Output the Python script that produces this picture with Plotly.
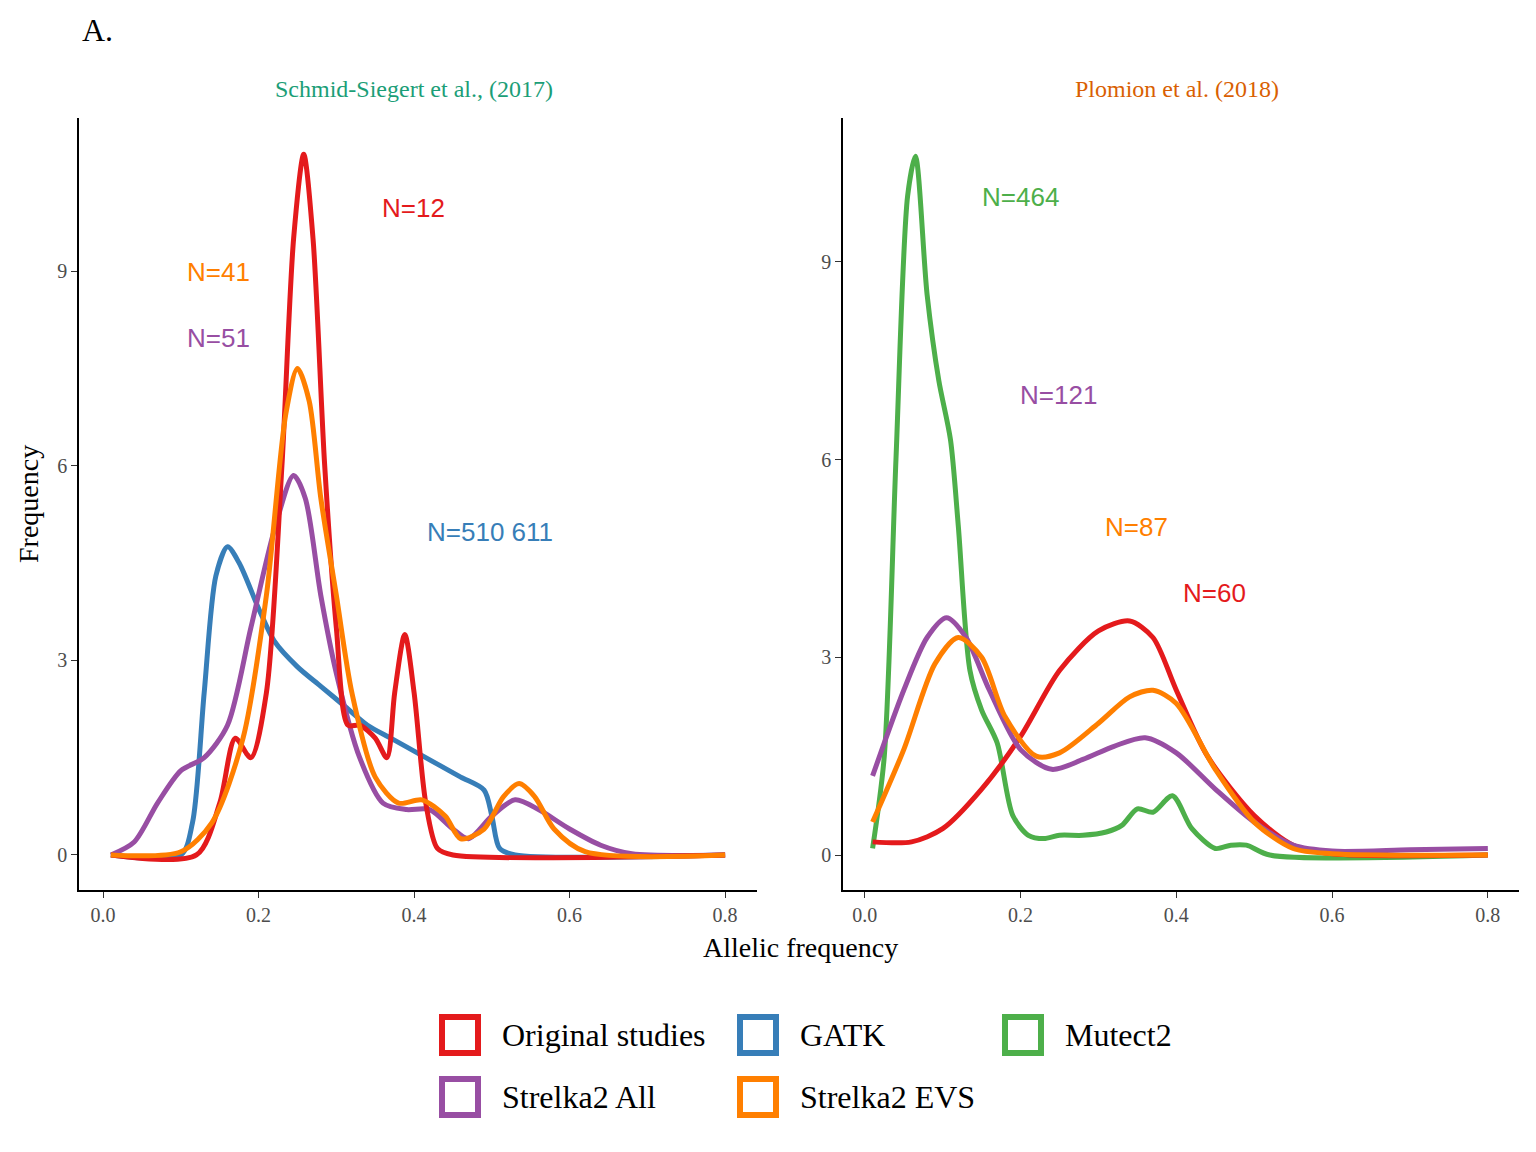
import plotly.graph_objects as go

RED, BLUE, GREEN, PURPLE, ORANGE = "#E41A1C", "#377EB8", "#4DAF4A", "#984EA3", "#FF7F00"

# left panel: Schmid-Siegert et al. (2017)
l_orig_x = [0.01, 0.12, 0.15, 0.17, 0.19, 0.21, 0.23, 0.245, 0.258, 0.27, 0.285, 0.3, 0.315, 0.33, 0.35, 0.365, 0.375, 0.388, 0.4, 0.415, 0.43, 0.45, 0.8]
l_orig_y = [0, 0, 0.8, 1.8, 1.5, 2.5, 6, 9.5, 10.8, 9.5, 6, 3.5, 2.0, 2.0, 1.8, 1.5, 2.5, 3.4, 2.5, 0.8, 0.1, 0, 0]
l_gatk_x = [0.01, 0.1, 0.115, 0.13, 0.145, 0.16, 0.175, 0.2, 0.22, 0.25, 0.28, 0.31, 0.34, 0.37, 0.4, 0.43, 0.46, 0.49, 0.5, 0.51, 0.53, 0.8]
l_gatk_y = [0, 0, 0.5, 2.5, 4.3, 4.75, 4.5, 3.8, 3.3, 2.9, 2.6, 2.3, 2.0, 1.8, 1.6, 1.4, 1.2, 1.0, 0.6, 0.1, 0, 0]
l_all_x = [0.01, 0.04, 0.07, 0.1, 0.13, 0.16, 0.19, 0.22, 0.245, 0.26, 0.28, 0.3, 0.33, 0.36, 0.39, 0.42, 0.45, 0.47, 0.5, 0.53, 0.56, 0.6, 0.64, 0.68, 0.8]
l_all_y = [0, 0.2, 0.8, 1.3, 1.5, 2.0, 3.5, 5.0, 5.85, 5.5, 4.0, 2.8, 1.5, 0.8, 0.7, 0.7, 0.4, 0.25, 0.6, 0.85, 0.7, 0.4, 0.15, 0.02, 0]
l_evs_x = [0.01, 0.1, 0.14, 0.18, 0.21, 0.235, 0.25, 0.265, 0.28, 0.3, 0.32, 0.35, 0.38, 0.41, 0.44, 0.46, 0.49, 0.515, 0.535, 0.555, 0.58, 0.62, 0.8]
l_evs_y = [0, 0.05, 0.5, 1.8, 4.0, 6.8, 7.5, 7.0, 5.5, 4.0, 2.5, 1.2, 0.8, 0.85, 0.6, 0.25, 0.4, 0.9, 1.1, 0.9, 0.4, 0.05, 0]

# right panel: Plomion et al. (2018)
r_mut_x = [0.01, 0.025, 0.04, 0.055, 0.065, 0.08, 0.095, 0.11, 0.12, 0.135, 0.15, 0.17, 0.19, 0.21, 0.23, 0.25, 0.28, 0.31, 0.33, 0.35, 0.37, 0.395, 0.42, 0.45, 0.47, 0.49, 0.52, 0.8]
r_mut_y = [0.1, 1.5, 6, 10, 10.6, 8.5, 7.2, 6.3, 5.0, 2.8, 2.2, 1.7, 0.6, 0.3, 0.25, 0.3, 0.3, 0.35, 0.45, 0.7, 0.65, 0.9, 0.4, 0.1, 0.15, 0.15, 0, 0]
r_orig_x = [0.01, 0.06, 0.1, 0.15, 0.2, 0.25, 0.3, 0.34, 0.37, 0.4, 0.44, 0.5, 0.55, 0.6, 0.8]
r_orig_y = [0.2, 0.2, 0.4, 1.0, 1.8, 2.8, 3.4, 3.55, 3.3, 2.5, 1.5, 0.6, 0.15, 0.02, 0]
r_all_x = [0.01, 0.05, 0.08, 0.105, 0.13, 0.16, 0.2, 0.24, 0.28, 0.32, 0.36, 0.4, 0.45, 0.5, 0.55, 0.6, 0.7, 0.8]
r_all_y = [1.2, 2.5, 3.3, 3.6, 3.3, 2.5, 1.6, 1.3, 1.45, 1.65, 1.78, 1.55, 1.0, 0.5, 0.15, 0.06, 0.08, 0.1]
r_evs_x = [0.01, 0.05, 0.09, 0.12, 0.15, 0.18, 0.22, 0.25, 0.3, 0.34, 0.37, 0.4, 0.45, 0.5, 0.55, 0.6, 0.8]
r_evs_y = [0.5, 1.6, 2.9, 3.3, 3.0, 2.1, 1.5, 1.55, 2.0, 2.4, 2.5, 2.3, 1.3, 0.5, 0.1, 0.02, 0]

left_labels = [("N=12", 0.399, 9.97, RED), ("N=41", 0.148, 8.98, ORANGE),
               ("N=51", 0.148, 7.97, PURPLE), ("N=510 611", 0.498, 4.98, BLUE)]
right_labels = [("N=464", 0.2, 9.98, GREEN), ("N=121", 0.249, 6.98, PURPLE),
                ("N=87", 0.349, 4.98, ORANGE), ("N=60", 0.449, 3.98, RED)]

legend_items = [("Original studies", RED), ("GATK", BLUE), ("Mutect2", GREEN),
                ("Strelka2 All", PURPLE), ("Strelka2 EVS", ORANGE)]

fig = go.Figure()


def add(x, y, color, ax):
    fig.add_trace(go.Scatter(x=x, y=y, mode="lines", line=dict(color=color, width=5, shape="spline", smoothing=0.8),
                             xaxis="x" + ax, yaxis="y" + ax, showlegend=False))


add(l_gatk_x, l_gatk_y, BLUE, "")
add(l_all_x, l_all_y, PURPLE, "")
add(l_orig_x, l_orig_y, RED, "")
add(l_evs_x, l_evs_y, ORANGE, "")
add(r_mut_x, r_mut_y, GREEN, "2")
add(r_orig_x, r_orig_y, RED, "2")
add(r_all_x, r_all_y, PURPLE, "2")
add(r_evs_x, r_evs_y, ORANGE, "2")

W, H = 1536, 1152
OFF = 8  # page margin


def px(x):
    return (x - OFF) / W


def py(y):
    return 1 - (y - OFF) / H


ann = []
for t, x, y, c in left_labels:
    ann.append(dict(text=t, x=x, y=y, xref="x", yref="y", showarrow=False, font=dict(color=c, size=26, family="Liberation Sans")))
for t, x, y, c in right_labels:
    ann.append(dict(text=t, x=x, y=y, xref="x2", yref="y2", showarrow=False, font=dict(color=c, size=26, family="Liberation Sans")))

serif = "Liberation Serif"


def label(text, x, y, size, color="black", xanchor="center", angle=0):
    ann.append(dict(text=text, x=px(x), y=py(y), xref="paper", yref="paper", showarrow=False,
                    xanchor=xanchor, yanchor="middle", textangle=angle,
                    font=dict(size=size, family=serif, color=color)))


label("A.", 80, 30, 32, xanchor="left")
label("Schmid-Siegert et al., (2017)", 414, 89, 24, "#1B9E77")
label("Plomion et al. (2018)", 1177, 89, 24, "#D95F02")
label("Allelic frequency", 800, 947, 28)
label("Frequency", 28, 504, 28, angle=-90)

shapes = []
pos = [(440, 1035), (738, 1035), (1003, 1035), (440, 1097), (738, 1097)]
for (name, c), (lx, ly) in zip(legend_items, pos):
    shapes.append(dict(type="rect", xref="paper", yref="paper", x0=px(lx + 2), x1=px(lx + 38),
                       y0=py(ly + 18), y1=py(ly - 18), line=dict(color=c, width=6)))
    label(name, lx + 60, ly, 32, xanchor="left")

axis = dict(showgrid=False, zeroline=False, showline=True, linecolor="black", linewidth=1.5, ticks="outside",
            ticklen=6, tickcolor="#333", tickfont=dict(size=20, family=serif, color="#4d4d4d"))
fig.update_layout(
    width=W, height=H, plot_bgcolor="white", paper_bgcolor="white", margin=dict(l=0, r=0, t=0, b=0),
    xaxis=dict(axis, domain=[px(79), px(757)], range=[-0.031, 0.841], tickvals=[0, 0.2, 0.4, 0.6, 0.8], ticktext=["0.0", "0.2", "0.4", "0.6", "0.8"]),
    yaxis=dict(axis, domain=[py(890), py(118)], range=[-0.54, 11.36], tickvals=[0, 3, 6, 9]),
    xaxis2=dict(axis, domain=[px(843), px(1519)], range=[-0.028, 0.84], anchor="y2", tickvals=[0, 0.2, 0.4, 0.6, 0.8], ticktext=["0.0", "0.2", "0.4", "0.6", "0.8"]),
    yaxis2=dict(axis, domain=[py(890), py(118)], range=[-0.53, 11.18], anchor="x2", tickvals=[0, 3, 6, 9]),
    annotations=ann, shapes=shapes,
)
fig.write_html("out.html")
